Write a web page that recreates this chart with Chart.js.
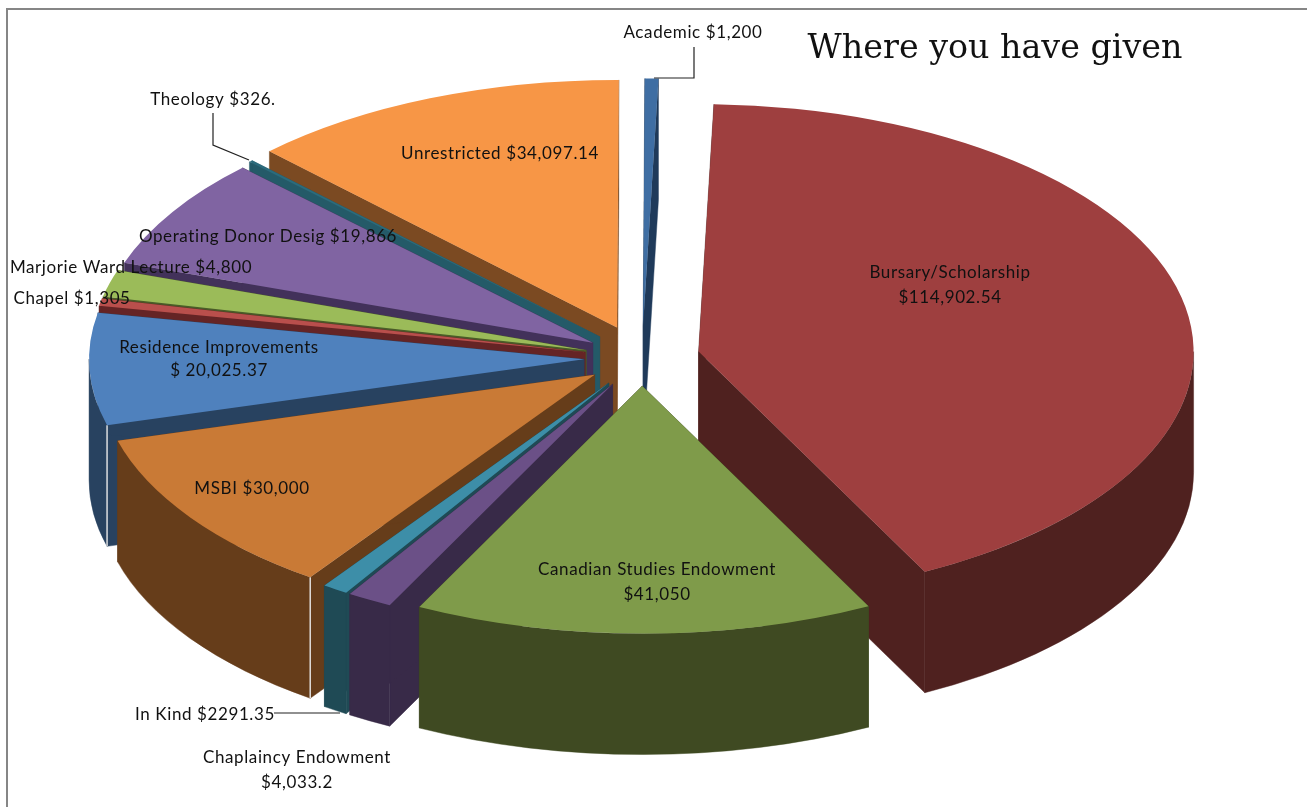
<!DOCTYPE html>
<html><head><meta charset="utf-8">
<style>html,body{margin:0;padding:0;background:#fff;overflow:hidden}canvas{display:block}</style>
<script src="https://cdn.jsdelivr.net/npm/chart.js@4"></script>
</head><body><canvas id="c" width="1307" height="807"></canvas>
<script>
const categories=["Academic","Bursary/Scholarship","Canadian Studies Endowment","Chaplaincy Endowment","In Kind","MSBI","Residence Improvements","Chapel","Marjorie Ward Lecture","Operating Donor Desig","Theology","Unrestricted"];
const amounts=[1200,114902.54,41050,4033.2,2291.35,30000,20025.37,1305,4800,19866,326,34097.14];
const topColors=["#3f6ea3","#9e3f3f","#7f9b4a","#6b5087","#3d8ea8","#c97a36","#4f81bd","#b94f4c","#9bbb59","#8064a2","#2b6b7c","#f79646"];
const wallColors=["#1f3a5a","#4f211f","#3f4a22","#382a48","#1f4a55","#663d1a","#284260","#652425","#4a5c28","#42315a","#245a68","#7b4a22"];
const explode=[64,58,56,60,60,58,58,58,58,58,60,66];
const sliceLabels=[
 ["Academic $1,200",693,33],["Bursary/Scholarship",950,273],["$114,902.54",950,298],
 ["Canadian Studies Endowment",657,570],["$41,050",657,595],["Chaplaincy Endowment",297,758],["$4,033.2",297,783],
 ["In Kind $2291.35",205,715],["MSBI $30,000",252,489],["Residence Improvements",219,348],["$ 20,025.37",219,371],
 ["Chapel $1,305",72,299],["Marjorie Ward Lecture $4,800",131,268],["Operating Donor Desig $19,866",268,237],
 ["Theology $326.",213,100],["Unrestricted $34,097.14",500,154]];
const leaders=[[[694,47],[694,78],[654,78]],[[213,113],[213,145],[249,160]],[[274,713],[340,713]]];
const chartTitle="Where you have given";
const TILT=0.5, DEPTH=121;

const pie3d={id:'pie3d',
 beforeDatasetDraw(){return false;},
 afterDatasetsDraw(chart){
  const ctx=chart.ctx, arcs=chart.getDatasetMeta(0).data;
  // chart frame
  ctx.save();ctx.strokeStyle='#868686';ctx.lineWidth=2;
  ctx.beginPath();ctx.moveTo(7,807);ctx.lineTo(7,9);ctx.lineTo(1307,9);ctx.stroke();ctx.restore();
  const order=arcs.map((a,i)=>i).sort((p,q)=>{
    const m=a=>Math.sin((a.startAngle+a.endAngle)/2);
    return m(arcs[p])-m(arcs[q]);});
  const d=DEPTH/TILT;
  for(const i of order){
   const a=arcs[i],mid=(a.startAngle+a.endAngle)/2,r=a.outerRadius;
   ctx.save();
   ctx.translate(a.x,a.y);ctx.scale(1,TILT);ctx.translate(-a.x,-a.y);
   ctx.translate(Math.cos(mid)*explode[i],Math.sin(mid)*explode[i]);
   const wall=wallColors[i];
   ctx.fillStyle=wall;ctx.strokeStyle=wall;ctx.lineWidth=0.6;
   for(const ang of [a.startAngle,a.endAngle]){
    const ex=a.x+Math.cos(ang)*r,ey=a.y+Math.sin(ang)*r;
    ctx.beginPath();ctx.moveTo(a.x,a.y);ctx.lineTo(ex,ey);ctx.lineTo(ex,ey+d);ctx.lineTo(a.x,a.y+d);ctx.closePath();ctx.fill();ctx.stroke();
   }
   // outer wall: the part of the rim that faces the viewer
   const TAU=Math.PI*2;
   for(const k of [0,1]){
    const lo=Math.max(a.startAngle,k*TAU),hi=Math.min(a.endAngle,k*TAU+Math.PI);
    if(hi>lo){
     ctx.beginPath();ctx.arc(a.x,a.y,r,lo,hi);ctx.arc(a.x,a.y+d,r,hi,lo,true);ctx.closePath();ctx.fill();ctx.stroke();
    }
   }
   if(i===5||i===6){
    const ex=a.x+Math.cos(a.startAngle)*r,ey=a.y+Math.sin(a.startAngle)*r;
    ctx.strokeStyle='#e8e8e8';ctx.lineWidth=1.4;
    ctx.beginPath();ctx.moveTo(ex,ey);ctx.lineTo(ex,ey+d);ctx.stroke();
   }
   a.draw(ctx);
   ctx.restore();
  }
  // leader lines
  ctx.save();ctx.strokeStyle='#222';ctx.lineWidth=1.2;
  for(const l of leaders){ctx.beginPath();l.forEach((p,n)=>n?ctx.lineTo(p[0],p[1]):ctx.moveTo(p[0],p[1]));ctx.stroke();}
  // texts
  ctx.fillStyle='#111';ctx.textAlign='center';ctx.textBaseline='middle';
  ctx.font='17px Lato';ctx.letterSpacing='0.6px';
  for(const [t,x,y] of sliceLabels)ctx.fillText(t,x,y);
  ctx.letterSpacing='0px';
  ctx.font='33.3px "DejaVu Serif"';
  ctx.fillText(chartTitle,995,49);
  ctx.restore();
 }};

new Chart(document.getElementById('c'),{
 type:'pie',
 data:{labels:categories,datasets:[{data:amounts,backgroundColor:topColors,borderWidth:0}]},
 options:{responsive:false,animation:false,rotation:0.2,radius:495,
  layout:{padding:{right:23,bottom:91}},
  plugins:{legend:{display:false},title:{display:false},tooltip:{enabled:false}}},
 plugins:[pie3d]});
</script></body></html>
